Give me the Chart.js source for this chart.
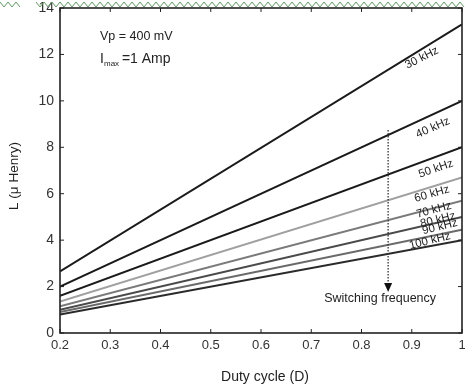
<!DOCTYPE html>
<html><head><meta charset="utf-8">
<script src="https://cdn.jsdelivr.net/npm/chart.js@4/dist/chart.umd.min.js"></script>
<style>html,body{margin:0;padding:0;background:#fff}#wrap{width:465px;height:387px}</style>
</head><body><div id="wrap"><canvas id="c" width="465" height="387"></canvas></div>
<script>
const dutyCycle = [0.2, 1.0];
const frequencies = ['30 kHz','40 kHz','50 kHz','60 kHz','70 kHz','80 kHz','90 kHz','100 kHz'];
const L30k  = [2.65, 13.3];
const L40k  = [2.0, 10.0];
const L50k  = [1.6, 8.0];
const L60k  = [1.35, 6.7];
const L70k  = [1.15, 5.7];
const L80k  = [1.0, 5.0];
const L90k  = [0.9, 4.45];
const L100k = [0.8, 4.0];
const xTicks = [0.2,0.3,0.4,0.5,0.6,0.7,0.8,0.9,1];
const yTicks = [0,2,4,6,8,10,12,14];

const seriesValues = [L30k,L40k,L50k,L60k,L70k,L80k,L90k,L100k];
const colors = ['#1a1a1a','#1a1a1a','#1a1a1a','#a0a0a0','#7a7a7a','#4a4a4a','#6a6a6a','#2a2a2a'];
const labelPos = [[0.92,11.85,-27],[0.942,8.84,-24],[0.948,7.07,-19],[0.94,5.99,-16],[0.944,5.30,-15],[0.952,4.87,-14],[0.956,4.57,-14],[0.936,3.97,-14]];
const FONT = '"Liberation Sans", Arial, sans-serif';

const datasets = seriesValues.map((vals,i)=>({
  label: frequencies[i],
  data: dutyCycle.map((d,j)=>({x:d,y:vals[j]})),
  borderColor: colors[i], borderWidth: 2, pointRadius: 0, fill:false, tension:0
}));

const decor = {
  id:'decor',
  afterDraw(chart){
    const {ctx, chartArea:a, scales:{x,y}} = chart;
    ctx.save();
    ctx.strokeStyle='#222'; ctx.lineWidth=1.6;
    ctx.strokeRect(a.left,a.top,a.right-a.left,a.bottom-a.top);
    ctx.lineWidth=1;
    xTicks.forEach(v=>{const p=x.getPixelForValue(v);
      ctx.beginPath();ctx.moveTo(p,a.bottom);ctx.lineTo(p,a.bottom-4);ctx.moveTo(p,a.top);ctx.lineTo(p,a.top+4);ctx.stroke();});
    yTicks.forEach(v=>{const p=y.getPixelForValue(v);
      ctx.beginPath();ctx.moveTo(a.left,p);ctx.lineTo(a.left+4,p);ctx.moveTo(a.right,p);ctx.lineTo(a.right-4,p);ctx.stroke();});
    ctx.strokeStyle='#5d9a5d'; ctx.lineWidth=1;
    ctx.beginPath();
    for(let px=36, k=0; px<=465; px+=4, k++){ const py = k%2? 7:2; if(k===0) ctx.moveTo(px,py); else ctx.lineTo(px,py);} ctx.stroke();
    ctx.beginPath();
    for(let px=0, k=0; px<=22; px+=4, k++){ const py = k%2? 7:2; if(k===0) ctx.moveTo(px,py); else ctx.lineTo(px,py);} ctx.stroke();
    ctx.fillStyle='#222'; ctx.font='11.5px '+FONT;
    ctx.textAlign='center'; ctx.textBaseline='middle';
    labelPos.forEach((lp,i)=>{
      const px=x.getPixelForValue(lp[0]), py=y.getPixelForValue(lp[1]);
      ctx.save(); ctx.translate(px,py); ctx.rotate(lp[2]*Math.PI/180); ctx.fillText(frequencies[i],0,0); ctx.restore();
    });
    const ax=x.getPixelForValue(0.853), ay1=y.getPixelForValue(8.75), ay2=y.getPixelForValue(2.15);
    ctx.strokeStyle='#333'; ctx.lineWidth=1.3; ctx.setLineDash([1.5,1.5]);
    ctx.beginPath(); ctx.moveTo(ax,ay1); ctx.lineTo(ax,ay2); ctx.stroke(); ctx.setLineDash([]);
    ctx.fillStyle='#111'; ctx.beginPath(); ctx.moveTo(ax-4,ay2); ctx.lineTo(ax+4,ay2); ctx.lineTo(ax,ay2+9); ctx.closePath(); ctx.fill();
    ctx.fillStyle='#222'; ctx.font='12.5px '+FONT;
    ctx.fillText('Switching frequency', ax-8, y.getPixelForValue(1.5));
    ctx.textAlign='left'; ctx.textBaseline='alphabetic';
    ctx.font='12.5px '+FONT;
    ctx.fillText('Vp = 400 mV', 100, 40);
    ctx.font='14px '+FONT;
    ctx.fillText('I', 100, 63);
    ctx.font='8px '+FONT;
    ctx.fillText('max', 104, 66);
    ctx.font='14px '+FONT;
    ctx.fillText(' =1 Amp', 118, 63);
    ctx.textAlign='center'; ctx.textBaseline='middle';
    ctx.font='14px '+FONT;
    ctx.fillText('Duty cycle (D)', 265, 377);
    ctx.save(); ctx.translate(14,176); ctx.rotate(-Math.PI/2); ctx.font='13.5px '+FONT; ctx.fillText('L (\u03bc Henry)',0,0); ctx.restore();
    ctx.restore();
  }
};

new Chart(document.getElementById('c'), {
  type:'line',
  data:{datasets},
  options:{
    responsive:false, animation:false, devicePixelRatio:1,
    layout:{padding:{top:8,right:3,left:0,bottom:0}},
    plugins:{legend:{display:false}, tooltip:{enabled:false}},
    scales:{
      x:{type:'linear', min:0.2, max:1,
        afterBuildTicks(s){s.ticks=xTicks.map(v=>({value:v}));},
        afterFit(s){s.height=54; s.paddingLeft=0; s.paddingRight=0;},
        grid:{display:false, drawTicks:false}, border:{display:false},
        ticks:{padding:5, color:'#333', font:{family:FONT, size:13},
          maxRotation:0, autoSkip:false, callback:v=>String(Math.round(v*10)/10)}},
      y:{type:'linear', min:0, max:14,
        afterBuildTicks(s){s.ticks=yTicks.map(v=>({value:v}));},
        afterFit(s){s.width=60; s.paddingTop=0; s.paddingBottom=0;},
        grid:{display:false, drawTicks:false}, border:{display:false},
        ticks:{padding:6, color:'#333', font:{family:FONT, size:14}, autoSkip:false}}
    }
  },
  plugins:[decor]
});
</script></body></html>
